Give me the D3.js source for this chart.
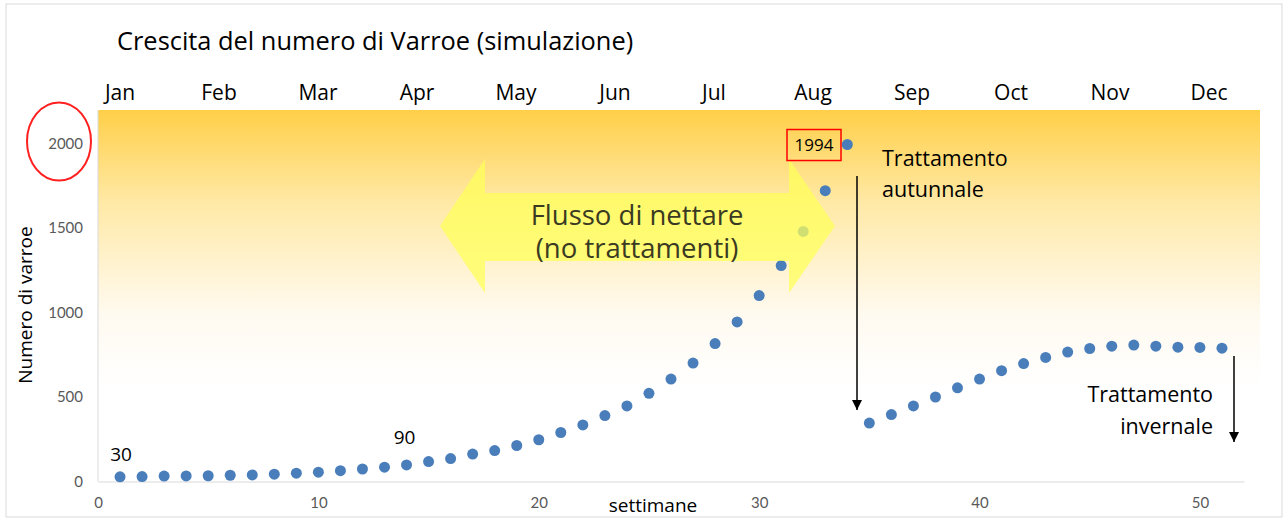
<!DOCTYPE html>
<html>
<head>
<meta charset="utf-8">
<script src="https://cdn.jsdelivr.net/npm/d3@7"></script>
<style>
  body { margin: 0; background: #fff; }
  svg { display: block; font-family: "Open Sans", Lato, sans-serif; }
</style>
</head>
<body>
<svg></svg>
<script>
// Chart size
let width = 1288,
    height = 520;

// Data
let weeks = d3.range(1, 52);
let mites = [28, 29, 32, 33, 34, 37, 39, 43, 49, 55, 64, 74, 85, 98, 118, 136, 162,
             183, 213, 247, 290, 335, 390, 447, 522, 606, 701, 816, 944, 1100, 1278,
             1480, 1721, 1994, 346, 396, 447, 500, 554, 606, 656, 698, 734, 766, 787,
             801, 807, 801, 795, 793, 789];
let months = ["Jan", "Feb", "Mar", "Apr", "May", "Jun", "Jul", "Aug", "Sep", "Oct", "Nov", "Dec"];
let xTicks = [0, 10, 20, 30, 40, 50];
let yTicks = [0, 500, 1000, 1500, 2000];
let peakWeek = 34;

let svg = d3.select("svg")
    .attr("width", width)
    .attr("height", height);

// Scales
let x = d3.scaleLinear().domain([0, 52]).range([98, 1244]);
let y = d3.scaleLinear().domain([0, 2000]).range([481.5, 143.5]);
let plotTop = 110, plotRight = 1260;

// Outer frame
svg.append("rect")
    .attr("x", 6).attr("y", 4)
    .attr("width", 1276).attr("height", 513)
    .style("fill", "none")
    .style("stroke", "#d9d9d9");

// Background gradient
let defs = svg.append("defs");
let grad = defs.append("linearGradient")
    .attr("id", "bg").attr("x1", 0).attr("y1", 0).attr("x2", 0).attr("y2", 1);
grad.append("stop").attr("offset", "0%").attr("stop-color", "#ffcf48");
grad.append("stop").attr("offset", "25%").attr("stop-color", "#ffe9a6");
grad.append("stop").attr("offset", "55%").attr("stop-color", "#fffaf0");
grad.append("stop").attr("offset", "75%").attr("stop-color", "#ffffff");

svg.append("rect")
    .attr("x", x(0)).attr("y", plotTop)
    .attr("width", plotRight - x(0)).attr("height", y(0) - plotTop)
    .style("fill", "url(#bg)");

// Axes
let yAxis = svg.append("g")
    .attr("transform", `translate(${x(0)},0)`)
    .call(d3.axisLeft(y).tickValues(yTicks).tickFormat(d3.format("d"))
        .tickSize(0).tickPadding(15));
yAxis.select(".domain").attr("d", `M0,${y(0)}V${plotTop}`);

let xAxis = svg.append("g")
    .attr("transform", `translate(0,${y(0)})`)
    .call(d3.axisBottom(x).tickValues(xTicks).tickSize(0).tickPadding(16));

svg.selectAll(".domain").style("stroke", "#d9d9d9");
svg.selectAll(".tick text")
    .style("font-size", "15px")
    .style("font-family", "Lato, sans-serif")
    .style("fill", "#595959");

// Axis titles
svg.append("text")
    .attr("x", 653).attr("y", 512)
    .attr("text-anchor", "middle")
    .style("font-size", "19px")
    .text("settimane");

svg.append("text")
    .attr("transform", "translate(32,305) rotate(-90)")
    .attr("text-anchor", "middle")
    .style("font-size", "19px")
    .text("Numero di varroe");

// Title
svg.append("text")
    .attr("x", 117).attr("y", 50)
    .style("font-size", "25.4px")
    .text("Crescita del numero di Varroe (simulazione)");

// Month labels
let mx = d3.scalePoint().domain(months).range([120, 1209]);
svg.selectAll(".month")
    .data(months)
    .enter().append("text")
    .attr("class", "month")
    .attr("x", d => mx(d))
    .attr("y", 100)
    .attr("text-anchor", "middle")
    .style("font-size", "21px")
    .text(d => d);

// Points
svg.selectAll(".dot")
    .data(weeks)
    .enter().append("circle")
    .attr("class", "dot")
    .attr("cx", d => x(d))
    .attr("cy", (d, i) => y(mites[i]))
    .attr("r", 5.5)
    .style("fill", "#4a7ebb");

// Nectar flow double arrow (drawn over the points)
let ay = y(1500) - 2;
let arrow = [
    [440, ay], [485, ay - 67], [485, ay - 33], [789, ay - 33], [789, ay - 67],
    [835, ay], [789, ay + 67], [789, ay + 35], [485, ay + 35], [485, ay + 67]
];
svg.append("path")
    .attr("d", d3.line()(arrow) + "Z")
    .style("fill", "#ffff5a")
    .style("fill-opacity", 0.75);

svg.append("text")
    .attr("x", 637).attr("y", ay - 1)
    .attr("text-anchor", "middle")
    .style("font-size", "27.5px")
    .style("fill", "#3a3a22")
    .text("Flusso di nettare");
svg.append("text")
    .attr("x", 637).attr("y", ay + 32)
    .attr("text-anchor", "middle")
    .style("font-size", "27.5px")
    .style("fill", "#3a3a22")
    .text("(no trattamenti)");

// Peak label box
let peak = mites[peakWeek - 1];
svg.append("rect")
    .attr("x", 787).attr("y", y(peak) - 15)
    .attr("width", 54).attr("height", 31)
    .style("fill", "none")
    .style("stroke", "#ff0000")
    .style("stroke-width", 1.5);
svg.append("text")
    .attr("x", 814).attr("y", y(peak) + 6)
    .attr("text-anchor", "middle")
    .style("font-size", "17px")
    .text(peak);

// Red ellipse around 2000
svg.append("ellipse")
    .attr("cx", 59).attr("cy", y(2000) - 2)
    .attr("rx", 32).attr("ry", 39)
    .style("fill", "none")
    .style("stroke", "#ff2020")
    .style("stroke-width", 2);

// Small value labels
svg.append("text")
    .attr("x", x(1) + 1).attr("y", 461)
    .attr("text-anchor", "middle")
    .style("font-size", "19px")
    .text(30);
svg.append("text")
    .attr("x", x(14) - 2).attr("y", 444)
    .attr("text-anchor", "middle")
    .style("font-size", "19px")
    .text(90);

// Treatment arrows
defs.append("marker")
    .attr("id", "head")
    .attr("viewBox", "0 0 10 10")
    .attr("refX", 10).attr("refY", 5)
    .attr("markerWidth", 10).attr("markerHeight", 10)
    .attr("markerUnits", "userSpaceOnUse")
    .attr("orient", "auto")
    .append("path")
    .attr("d", "M0,0L10,5L0,10Z")
    .style("fill", "#000");

svg.append("line")
    .attr("x1", 857).attr("y1", 176)
    .attr("x2", 857).attr("y2", 410)
    .style("stroke", "#000").style("stroke-width", 1.5)
    .attr("marker-end", "url(#head)");

svg.append("line")
    .attr("x1", 1234).attr("y1", 356)
    .attr("x2", 1234).attr("y2", 442)
    .style("stroke", "#000").style("stroke-width", 1.5)
    .attr("marker-end", "url(#head)");

// Treatment notes
let autumn = svg.append("text").style("font-size", "21.5px");
autumn.append("tspan").attr("x", 882).attr("y", 166).text("Trattamento");
autumn.append("tspan").attr("x", 882).attr("y", 197).text("autunnale");

let winter = svg.append("text").style("font-size", "21.5px").attr("text-anchor", "end");
winter.append("tspan").attr("x", 1213).attr("y", 402).text("Trattamento");
winter.append("tspan").attr("x", 1213).attr("y", 434).text("invernale");
</script>
</body>
</html>
